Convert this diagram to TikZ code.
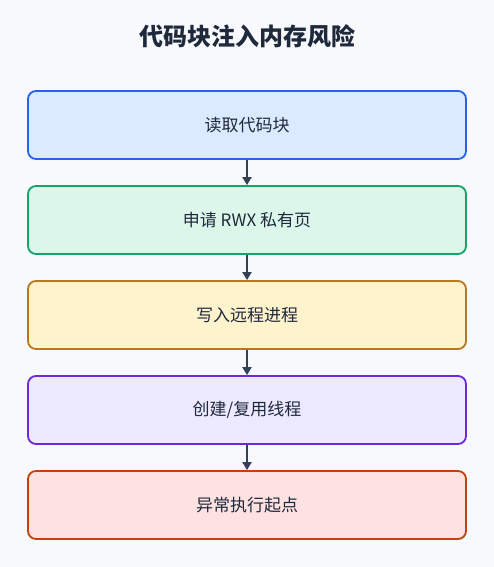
\documentclass[tikz,border=0pt]{standalone}
\usepackage{fontspec}
\setmainfont{Noto Sans CJK SC}
\usepackage{tikz}
\usetikzlibrary{arrows.meta, positioning}
\definecolor{bgcolor}{RGB}{247, 249, 252}
\definecolor{textcolor}{RGB}{30, 41, 59}
\definecolor{arrowcolor}{RGB}{51, 65, 85}
\definecolor{readfill}{RGB}{219, 234, 254}
\definecolor{readline}{RGB}{37, 99, 235}
\definecolor{allocfill}{RGB}{220, 247, 234}
\definecolor{allocline}{RGB}{22, 163, 106}
\definecolor{writefill}{RGB}{254, 243, 204}
\definecolor{writeline}{RGB}{183, 121, 31}
\definecolor{threadfill}{RGB}{237, 233, 254}
\definecolor{threadline}{RGB}{109, 40, 217}
\definecolor{execfill}{RGB}{254, 226, 226}
\definecolor{execline}{RGB}{194, 65, 12}

\begin{document}
\begin{tikzpicture}[x=1pt, y=-1pt,
    stepbox/.style={draw, line width=1.8pt, rounded corners=8pt, minimum width=438pt, minimum height=68pt, font=\fontsize{17}{20}\selectfont, text=textcolor, align=center},
    flow/.style={-{Triangle[length=8pt, width=9pt]}, line width=2.2pt, arrowcolor}]
        % Background
        \fill[bgcolor] (0, 0) rectangle (494, 567);
        \useasboundingbox (0, 0) rectangle (494, 567);

        % Title
        \node[font=\fontsize{24}{28}\selectfont\bfseries, text=textcolor] (title) at (247, 36) {代码块注入内存风险};

        % Steps
        \node[stepbox, fill=readfill, draw=readline] (read) at (247, 125) {\raisebox{-3pt}{读取代码块}};
        \node[stepbox, fill=allocfill, draw=allocline] (alloc) at (247, 220) {\raisebox{-3pt}{申请 RWX 私有页}};
        \node[stepbox, fill=writefill, draw=writeline] (write) at (247, 315) {\raisebox{-3pt}{写入远程进程}};
        \node[stepbox, fill=threadfill, draw=threadline] (thread) at (247, 410) {\raisebox{-3pt}{创建/复用线程}};
        \node[stepbox, fill=execfill, draw=execline] (exec) at (247, 505) {\raisebox{-3pt}{异常执行起点}};

        % Connections
        \draw[flow] (read) -- (alloc);
        \draw[flow] (alloc) -- (write);
        \draw[flow] (write) -- (thread);
        \draw[flow] (thread) -- (exec);

    \end{tikzpicture}
\end{document}
